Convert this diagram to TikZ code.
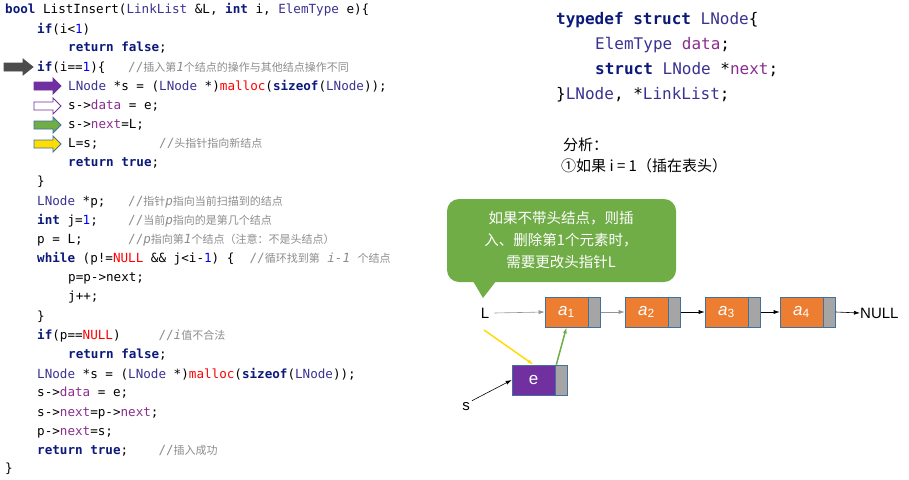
\documentclass[tikz,border=0pt]{standalone}
\usepackage{fontspec}
\setmainfont{Liberation Sans}
\setmonofont{DejaVu Sans Mono}
\newfontfamily\cj{Noto Sans CJK SC}
\usetikzlibrary{arrows.meta}
\definecolor{kwc}{HTML}{0B1A7A}
\definecolor{tyc}{HTML}{3A3290}
\definecolor{fdc}{HTML}{8A2D8E}
\definecolor{cmc}{HTML}{8C8C8C}
\definecolor{grn}{HTML}{70AD47}
\definecolor{org}{HTML}{ED7D31}
\definecolor{gry}{HTML}{A5A5A5}
\definecolor{pur}{HTML}{7030A0}
\definecolor{bdr}{HTML}{41719C}
\newcommand{\kw}[1]{\textcolor{kwc}{\bfseries #1}}
\newcommand{\ty}[1]{\textcolor{tyc}{#1}}
\newcommand{\nm}[1]{\textcolor{blue}{#1}}
\newcommand{\rd}[1]{\textcolor{red}{#1}}
\newcommand{\fd}[1]{\textcolor{fdc}{#1}}
\newcommand{\cmt}[1]{\textcolor{cmc}{#1}}
\begin{document}
\begin{tikzpicture}[x=1pt,y=-1pt,
  code/.style={anchor=west,inner sep=0,font=\ttfamily\fontsize{12.6}{14}\selectfont},
  tcode/.style={anchor=west,inner sep=0,font=\ttfamily\fontsize{16}{18}\selectfont},
  cell/.style={draw=bdr,line width=0.6pt,minimum height=30pt,inner sep=0},
  dat/.style={cell,fill=org,minimum width=43pt,text=white,font=\itshape\fontsize{17}{18}\selectfont},
  ptr/.style={cell,fill=gry,minimum width=12pt},
  lk/.style={-{Latex[length=6pt,width=4pt]},line width=0.6pt},
  lbl/.style={inner sep=0,font=\fontsize{15}{16}\selectfont}]
\useasboundingbox (0,0) rectangle (909,479);
% code lines
\newcommand{\cmf}{\cj\fontsize{11}{12}\selectfont}
\node[code] (c1) at (5,10) {\kw{bool} ListInsert(\ty{LinkList} \&L, \kw{int} i, \ty{ElemType} e)\{};
\node[code] (c2) at (37,29) {\kw{if}(i<\nm{1})};
\node[code] (c3) at (68,48) {\kw{return} \kw{false};};
\node[code] (c4) at (37,67) {\kw{if}(i==\nm{1})\{\ \ \ \cmt{//{\cmf 插入第}\textit{1}{\cmf 个结点的操作与其他结点操作不同}}};
\node[code] (c5) at (68,86) {\ty{LNode} *s = (\ty{LNode} *)\rd{malloc}(\kw{sizeof}(\ty{LNode}));};
\node[code] (c6) at (68,106) {s->\fd{data} = e;};
\node[code] (c7) at (68,125) {s->\fd{next}=L;};
\node[code] (c8) at (68,144) {L=s;\ \ \ \ \ \ \ \ \cmt{//{\cmf 头指针指向新结点}}};
\node[code] (c9) at (68,163) {\kw{return} \kw{true};};
\node[code] (c10) at (37,182) {\}};
\node[code] (c11) at (37,202) {\ty{LNode} *p;\ \ \ \cmt{//{\cmf 指针}\textit{p}{\cmf 指向当前扫描到的结点}}};
\node[code] (c12) at (37,221) {\kw{int} j=\nm{1};\ \ \ \ \cmt{//{\cmf 当前}\textit{p}{\cmf 指向的是第几个结点}}};
\node[code] (c13) at (37,240) {p = L;\ \ \ \ \ \ \cmt{//\textit{p}{\cmf 指向第}\textit{1}{\cmf 个结点（注意：不是头结点）}}};
\node[code] (c14) at (37,259) {\kw{while} (p!=\rd{NULL} \&\& j<i-\nm{1}) \{\ \ \cmt{//{\cmf 循环找到第} \textit{i-1} {\cmf 个结点}}};
\node[code] (c15) at (68,278) {p=p->next;};
\node[code] (c16) at (68,297) {j++;};
\node[code] (c17) at (37,317) {\}};
\node[code] (c18) at (37,336) {\kw{if}(p==\rd{NULL})\ \ \ \ \ \cmt{//\textit{i}{\cmf 值不合法}}};
\node[code] (c19) at (68,355) {\kw{return} \kw{false};};
\node[code] (c20) at (37,374) {\ty{LNode} *s = (\ty{LNode} *)\rd{malloc}(\kw{sizeof}(\ty{LNode}));};
\node[code] (c21) at (37,393) {s->\fd{data} = e;};
\node[code] (c22) at (37,413) {s->\fd{next}=p->\fd{next};};
\node[code] (c23) at (37,432) {p->\fd{next}=s;};
\node[code] (c24) at (37,451) {\kw{return} \kw{true};\ \ \ \ \cmt{//{\cmf 插入成功}}};
\node[code] (c25) at (5,469) {\}};
% block arrows
\newcommand{\barrow}[4]{\draw[#1,line width=0.8pt] (#2,#3-4) -- (#2+19,#3-4) -- (#2+19,#3-8) -- (#2+#4,#3) -- (#2+19,#3+8) -- (#2+19,#3+4) -- (#2,#3+4) -- cycle;}
\barrow{fill=black!70,draw=black!70}{4}{67}{29}
\barrow{fill=pur,draw=pur}{34}{86}{27}
\barrow{fill=white,draw=pur}{34}{106}{27}
\barrow{fill=grn,draw=bdr}{34}{125}{27}
\barrow{fill=yellow!80!orange,draw=bdr}{34}{144}{27}
% typedef
\node[tcode] (t1) at (556,20) {\kw{typedef} \kw{struct} \ty{LNode}\{};
\node[tcode] (t2) at (595,45) {\ty{ElemType} \fd{data};};
\node[tcode] (t3) at (595,70) {\kw{struct} \ty{LNode} *\fd{next};};
\node[tcode] (t4) at (556,95) {\}\ty{LNode}, *\ty{LinkList};};
\node[anchor=west,inner sep=0,font=\cj\fontsize{15}{16}\selectfont] (an1) at (563,145) {分析：};
\node[anchor=west,inner sep=0,font=\cj\fontsize{15}{16}\selectfont] (an2) at (561,166) {①如果 i = 1（插在表头）};
% callout
\fill[grn,rounded corners=12pt] (447,199) rectangle (676,282);
\fill[grn] (470,276) -- (483,298) -- (500,276) -- cycle;
\node[align=center,text=white,font=\cj\fontsize{14.5}{22}\selectfont,inner sep=0] (co) at (561,240) {如果不带头结点，则插\\入、删除第1个元素时，\\需要更改头指针L};
% list
\node[dat] (a1) at (566.5,312) {a\textsubscript{\upshape 1}};
\node[ptr,anchor=west] (p1) at (a1.east) {};
\node[dat] (a2) at (646.5,312) {a\textsubscript{\upshape 2}};
\node[ptr,anchor=west] (p2) at (a2.east) {};
\node[dat] (a3) at (726.5,312) {a\textsubscript{\upshape 3}};
\node[ptr,anchor=west] (p3) at (a3.east) {};
\node[dat] (a4) at (801.5,312) {a\textsubscript{\upshape 4}};
\node[ptr,anchor=west] (p4) at (a4.east) {};
\node[lbl,anchor=west] (nul) at (860,313) {NULL};
\node[lbl] (L) at (485,313) {L};
\node[dat,fill=pur,font=\fontsize{17}{18}\selectfont] (e) at (533.5,380) {e};
\node[ptr,anchor=west] (pe) at (e.east) {};
\node[lbl] (s) at (466,407) {s};
\draw[lk,draw=gry!90!black] (L.east)++(5,0) -- (a1.west);
\draw[lk,draw=gry!90!black] (p1.east) -- (a2.west);
\draw[lk] (p2.east) -- (a3.west);
\draw[lk] (p3.east) -- (a4.west);
\draw[lk] (p4.east) -- (nul.west);
\draw[lk] (s.north east)++(2,-2) -- (e.west);
\draw[lk,draw=yellow!80!orange,line width=1.5pt] (484,330) -- (e.north);
\draw[lk,draw=grn,line width=1.5pt] (pe.north west)++(1,0) -- (a1.south);
\end{tikzpicture}
\end{document}
